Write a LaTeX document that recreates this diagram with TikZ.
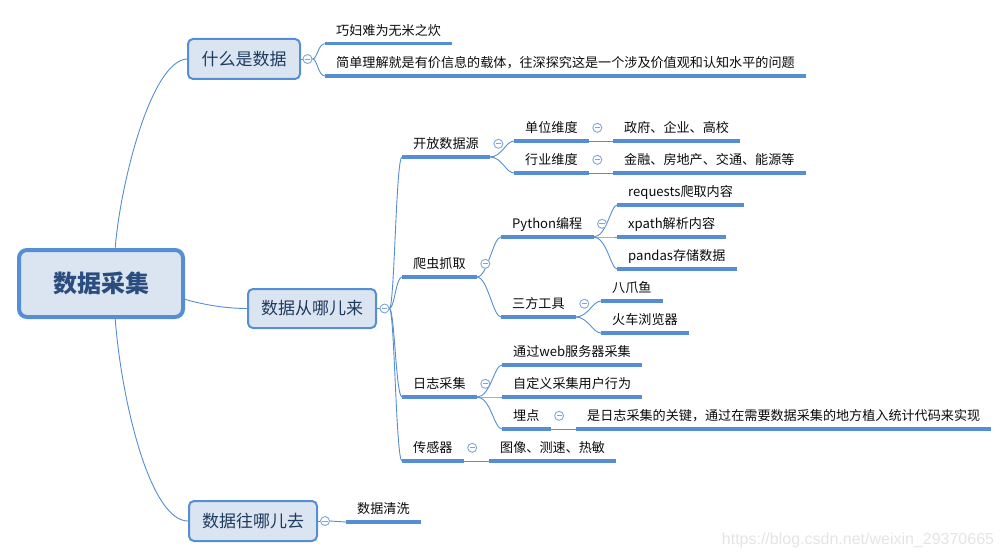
\documentclass[tikz,border=0pt]{standalone}
\usepackage{fontspec}
\setmainfont{Noto Sans CJK SC}
\newfontfamily\wmfont{Liberation Sans}
\usetikzlibrary{backgrounds,calc}
\definecolor{mblue}{HTML}{558ED5}
\definecolor{mfill}{HTML}{DBE5F1}
\definecolor{btext}{HTML}{1F3A5F}
\definecolor{rtext}{HTML}{2B4C7E}
\definecolor{ltext}{HTML}{0A0A0A}
\definecolor{cblue}{HTML}{7EA6DD}
\definecolor{wmgray}{HTML}{E4E4E4}
\begin{document}
\begin{tikzpicture}[x=1pt,y=-1pt,
  topic/.style={anchor=south west, inner xsep=11pt, inner ysep=0pt,
    minimum height=26pt, text height=11.5pt, text depth=1.7pt,
    font=\fontsize{13.1pt}{15pt}\selectfont, text=ltext},
  box/.style={draw=mblue, line width=2pt, fill=mfill, rounded corners=5pt,
    minimum width=112pt, minimum height=40pt, inner sep=0pt,
    font=\fontsize{17pt}{20pt}\selectfont, text=btext},
  rootbox/.style={draw=mblue, line width=4pt, fill=mfill, rounded corners=8pt,
    minimum width=164pt, minimum height=67pt, inner sep=0pt,
    font=\fontsize{24pt}{28pt}\selectfont\bfseries, text=rtext},
  fold/.style={circle, draw=cblue, line width=0.9pt, fill=white,
    minimum size=9pt, inner sep=0pt,
    path picture={\draw[cblue, line width=0.9pt]
      ([xshift=-2.6pt]path picture bounding box.center) --
      ([xshift=2.6pt]path picture bounding box.center);}},
  conn/.style={draw=mblue, line width=0.9pt},
  uline/.style={draw=mblue, line width=3.2pt},
]
\useasboundingbox (0,0) rectangle (1004,559);

% main boxes
\node[rootbox] (root) at (101,283.5) {数据采集};
\node[box] (w1) at (244,59) {什么是数据};
\node[box, minimum width=128pt, minimum height=39pt] (w2) at (312,308.5) {数据从哪儿来};
\node[box, minimum width=128pt] (w3) at (253,521) {数据往哪儿去};

\node[fold] (f1) at ([xshift=6.5pt]w1.east) {};
\node[fold] (f2) at ([xshift=7.5pt]w2.east) {};
\node[fold] (f3) at ([xshift=7pt]w3.east) {};

% branch 1
\node[topic] (q1) at (325,43.7) {巧妇难为无米之炊};
\node[topic] (q2) at (325,76) {简单理解就是有价信息的载体，往深探究这是一个涉及价值观和认知水平的问题};

% branch 2
\node[topic] (kf) at (402,157) {开放数据源};
\node[topic] (pc) at (402,277) {爬虫抓取};
\node[topic] (rz) at (402,397) {日志采集};
\node[topic] (cg) at (402,461) {传感器};

\node[topic] (dw) at (514,141) {单位维度};
\node[topic] (hy) at (514,173) {行业维度};
\node[topic] (dw1) at (613,141) {政府、企业、高校};
\node[topic] (hy1) at (613,173) {金融、房地产、交通、能源等};

\node[topic] (py) at (501,237) {Python编程};
\node[topic] (sf) at (501,317) {三方工具};
\node[topic] (py1) at (617,205) {requests爬取内容};
\node[topic] (py2) at (617,237) {xpath解析内容};
\node[topic] (py3) at (617,269) {pandas存储数据};
\node[topic] (sf1) at (601,301) {八爪鱼};
\node[topic] (sf2) at (601,333) {火车浏览器};

\node[topic] (rz1) at (502,365) {通过web服务器采集};
\node[topic] (rz2) at (502,397) {自定义采集用户行为};
\node[topic] (rz3) at (502,429) {埋点};
\node[topic] (rz31) at (576,429) {是日志采集的关键，通过在需要数据采集的地方植入统计代码来实现};

\node[topic] (cg1) at (489,461) {图像、测速、热敏};

% branch 3
\node[topic] (qx) at (346,522) {数据清洗};

% folds of topics
\foreach \n in {kf,dw,hy,pc,py,sf,rz,rz3,cg}
  \node[fold] (fold-\n) at ([xshift=8.5pt]\n.east) {};

% underlines
\foreach \n in {q1,q2,kf,pc,rz,cg,dw,hy,dw1,hy1,py,sf,py1,py2,py3,sf1,sf2,rz1,rz2,rz3,rz31,cg1,qx}
  \draw[uline] (\n.south west) -- (\n.south east);

\begin{scope}[on background layer]
  % root connectors
  \draw[conn] ($(root.north)+(14,3)$) .. controls (119,190) and (150,61) .. (w1.west);
  \draw[conn] ($(root.east)+(-3,15)$) .. controls +(20,6) and +(-22,0) .. (w2.west);
  \draw[conn] ($(root.south)+(14,-3)$) .. controls (121,400) and (150,521) .. (w3.west);
  % box to fold
  \draw[conn] (w1.east) -- (f1.west);
  \draw[conn] (w2.east) -- (f2.west);
  \draw[conn] (w3.east) -- (f3.west);
  % branch 1
  \foreach \c in {q1,q2}
    \draw[conn] (f1.east) .. controls +(5,0) and +(-7,0) .. (\c.south west);
  % branch 2 spine
  \foreach \c in {kf,pc,rz,cg}
    \draw[conn] (f2.east) .. controls +(5,0) and +(-6,0) .. (\c.south west);
  \foreach \c in {dw,hy}
    \draw[conn] (kf.south east) .. controls +(12,0) and +(-8,0) .. (\c.south west);
  \draw[conn] (dw.south east) -- (dw1.south west);
  \draw[conn] (hy.south east) -- (hy1.south west);
  \foreach \c in {py,sf}
    \draw[conn] (pc.south east) .. controls +(11,0) and +(-8,0) .. (\c.south west);
  \foreach \c in {py1,py2,py3}
    \draw[conn] (py.south east) .. controls +(13,0) and +(-6,0) .. (\c.south west);
  \foreach \c in {sf1,sf2}
    \draw[conn] (sf.south east) .. controls +(12,0) and +(-8,0) .. (\c.south west);
  \foreach \c in {rz1,rz2,rz3}
    \draw[conn] (rz.south east) .. controls +(14,0) and +(-8,0) .. (\c.south west);
  \draw[conn] (rz3.south east) -- (rz31.south west);
  \draw[conn] (cg.south east) -- (cg1.south west);
  % branch 3
  \draw[conn] (f3.east) -- (qx.south west);
\end{scope}

% watermark
\node[text=wmgray, font=\wmfont\fontsize{16pt}{18pt}\selectfont, inner sep=0pt] (wm) at (858,540) {https://blog.csdn.net/weixin\_29370665};
\end{tikzpicture}
\end{document}
